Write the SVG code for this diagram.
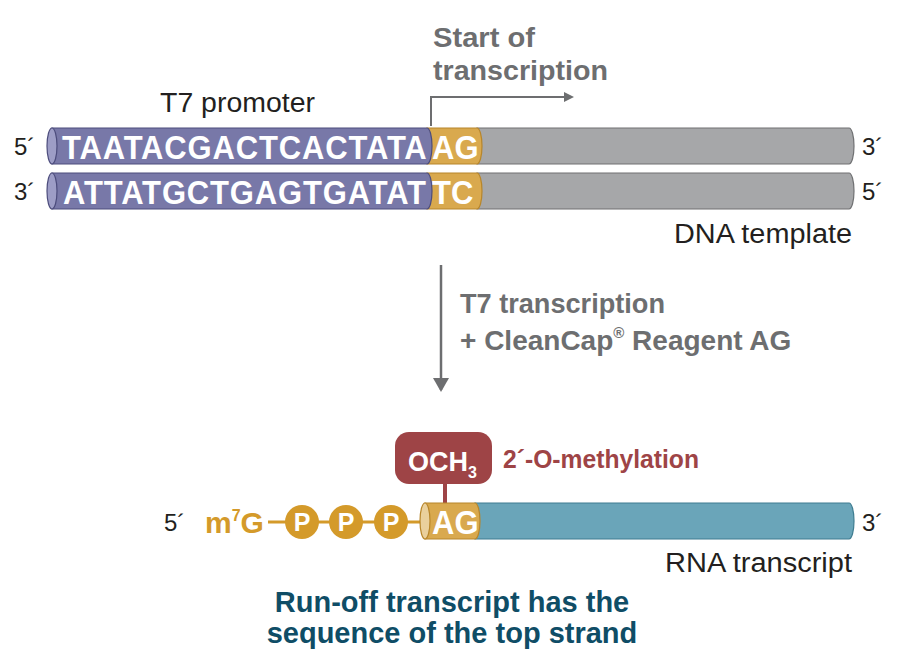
<svg xmlns="http://www.w3.org/2000/svg" width="900" height="672" viewBox="0 0 900 672">
<defs>
<style>
.lbl{font-family:"Liberation Sans",Arial,sans-serif;font-size:27px;fill:#231f20}
.end{font-family:"Liberation Sans",Arial,sans-serif;font-size:24px;fill:#231f20}
.gray{font-family:"Liberation Sans",Arial,sans-serif;font-size:28px;font-weight:bold;fill:#6d6e70}
.seq{font-family:"Liberation Sans",Arial,sans-serif;font-size:31px;font-weight:bold;fill:#ffffff}
.sp{letter-spacing:0.85px}
.blue{fill:#7878a8;stroke:#4c4c7c;stroke-width:1.2}
.bluecap{fill:#9d9dc6;stroke:#4c4c7c;stroke-width:1.2}
.org{fill:#d9a94e;stroke:#b8862a;stroke-width:1.2}
.orgcap{fill:#ead09c;stroke:#b8862a;stroke-width:1.2}
.gry{fill:#a6a7a9;stroke:#707173;stroke-width:1.2}
.teal{fill:#6aa5b9;stroke:#3f7d91;stroke-width:1.2}
.cap{fill:#d49a2a}
.ptxt{font-family:"Liberation Sans",Arial,sans-serif;font-size:25px;font-weight:bold;fill:#ffffff}
.note{font-family:"Liberation Sans",Arial,sans-serif;font-size:29px;font-weight:bold;fill:#0f4d66}
</style>
<marker id="ah" markerWidth="10" markerHeight="10" refX="8" refY="5" orient="auto" markerUnits="userSpaceOnUse">
<path d="M0,0 L10,5 L0,10 Z" fill="#6d6e70"/>
</marker>
<marker id="ah2" markerWidth="14" markerHeight="16" refX="12" refY="8" orient="auto" markerUnits="userSpaceOnUse">
<path d="M0,0 L14,8 L0,16 Z" fill="#6d6e70"/>
</marker>
</defs>

<g id="connectors">
<path d="M431,126 V97 H572" fill="none" stroke="#6d6e70" stroke-width="2" marker-end="url(#ah)"/>
<line x1="441" y1="265" x2="441" y2="390" stroke="#6d6e70" stroke-width="2.5" marker-end="url(#ah2)"/>
</g>

<g id="labels-top">
<text class="gray" x="433" y="47" textLength="102" lengthAdjust="spacingAndGlyphs">Start of</text>
<text class="gray" x="433" y="80" textLength="175" lengthAdjust="spacingAndGlyphs">transcription</text>
<text class="lbl" x="160" y="112" textLength="155" lengthAdjust="spacingAndGlyphs">T7 promoter</text>
<text class="lbl" x="674" y="243" textLength="178" lengthAdjust="spacingAndGlyphs">DNA template</text>
</g>

<g id="top-strand">
<path class="gry" d="M477,128 H849 A5,18 0 0 1 849,164 H477 Z"/>
<path class="org" d="M427,128 H477 A5,18 0 0 1 477,164 H427 Z"/>
<path class="blue" d="M52,128 H427 A5,18 0 0 1 427,164 H52 Z"/>
<ellipse class="bluecap" cx="52" cy="146" rx="5" ry="18"/>
<text class="seq" transform="translate(0,159) scale(1,1.1)"><tspan class="sp" x="62" y="0">TAATACGACTCACTATA</tspan><tspan x="432" y="0">AG</tspan></text>
<text class="end" x="14" y="155">5´</text>
<text class="end" x="862" y="155">3´</text>
</g>

<g id="bottom-strand">
<path class="gry" d="M477,173 H849 A5,18 0 0 1 849,209 H477 Z"/>
<path class="org" d="M427,173 H477 A5,18 0 0 1 477,209 H427 Z"/>
<path class="blue" d="M52,173 H427 A5,18 0 0 1 427,209 H52 Z"/>
<ellipse class="bluecap" cx="52" cy="191" rx="5" ry="18"/>
<text class="seq" transform="translate(0,204) scale(1,1.1)"><tspan class="sp" x="63" y="0">ATTATGCTGAGTGATAT</tspan><tspan x="432" y="0">TC</tspan></text>
<text class="end" x="14" y="200">3´</text>
<text class="end" x="862" y="200">5´</text>
</g>

<g id="reaction-label">
<text class="gray" x="460" y="313" textLength="205" lengthAdjust="spacingAndGlyphs">T7 transcription</text>
<text class="gray" x="460" y="350" font-size="27.5">+ CleanCap<tspan font-size="15" dy="-12">®</tspan><tspan dy="12"> Reagent AG</tspan></text>
</g>

<g id="methyl">
<rect x="443" y="480" width="4" height="24" fill="#9e4446"/>
<rect x="395" y="432" width="97" height="52" rx="14" fill="#9e4446"/>
<text x="408" y="471" font-family="Liberation Sans, Arial, sans-serif" font-size="27" font-weight="bold" fill="#ffffff">OCH<tspan font-size="16" dy="7">3</tspan></text>
<text x="503" y="468" font-family="Liberation Sans, Arial, sans-serif" font-size="25" font-weight="bold" fill="#9e4446" textLength="196" lengthAdjust="spacingAndGlyphs">2´-O-methylation</text>
</g>

<g id="rna">
<line x1="268" y1="522" x2="426" y2="522" stroke="#d49a2a" stroke-width="3"/>
<circle class="cap" cx="302" cy="522" r="17"/>
<circle class="cap" cx="346" cy="522" r="17"/>
<circle class="cap" cx="391" cy="522" r="17"/>
<text class="ptxt" x="302" y="531" text-anchor="middle">P</text>
<text class="ptxt" x="346" y="531" text-anchor="middle">P</text>
<text class="ptxt" x="391" y="531" text-anchor="middle">P</text>
<text x="205" y="533" font-family="Liberation Sans, Arial, sans-serif" font-size="30" font-weight="bold" fill="#d49a2a">m<tspan font-size="16" dy="-12">7</tspan><tspan dy="12">G</tspan></text>
<path class="teal" d="M475,503 H849 A5,18 0 0 1 849,539 H475 Z"/>
<path class="org" d="M425,503 H475 A5,18 0 0 1 475,539 H425 Z"/>
<ellipse class="orgcap" cx="425" cy="521" rx="5" ry="18"/>
<text class="seq" transform="translate(0,534) scale(1,1.1)"><tspan x="432" y="0">AG</tspan></text>
<text class="end" x="164" y="531">5´</text>
<text class="end" x="862" y="531">3´</text>
<text class="lbl" x="665" y="572" textLength="187" lengthAdjust="spacingAndGlyphs">RNA transcript</text>
</g>

<g id="note">
<text class="note" x="452" y="612" text-anchor="middle">Run-off transcript has the</text>
<text class="note" x="452" y="643" text-anchor="middle">sequence of the top strand</text>
</g>
</svg>
